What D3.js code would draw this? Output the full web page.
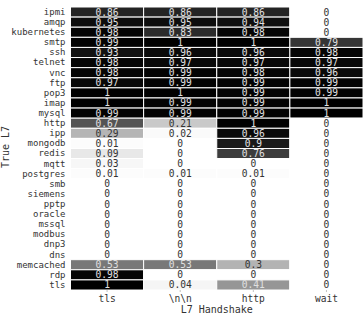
<!DOCTYPE html>
<html><head><meta charset="utf-8">
<script src="https://cdn.jsdelivr.net/npm/d3@7"></script>
<style>
html,body{margin:0;padding:0;background:#fff;}
text{font-family:"DejaVu Sans Mono",monospace;}
</style></head>
<body><svg id="c" width="364" height="315"></svg>
<script>
const rows = ["ipmi","amqp","kubernetes","smtp","ssh","telnet","vnc","ftp","pop3","imap","mysql","http","ipp","mongodb","redis","mqtt","postgres","smb","siemens","pptp","oracle","mssql","modbus","dnp3","dns","memcached","rdp","tls"];
const cols = ["tls","\\n\\n","http","wait"];
const values = [
 [0.86,0.86,0.86,0],
 [0.95,0.95,0.94,0],
 [0.98,0.83,0.98,0],
 [0.99,1,1,0.79],
 [0.93,0.96,0.96,0.98],
 [0.98,0.97,0.97,0.97],
 [0.98,0.99,0.98,0.96],
 [0.97,0.99,0.99,0.99],
 [1,1,0.99,0.99],
 [1,0.99,0.99,1],
 [0.99,0.99,0.99,1],
 [0.67,0.21,1,0],
 [0.29,0.02,0.96,0],
 [0.01,0,0.9,0],
 [0.09,0,0.76,0],
 [0.03,0,0,0],
 [0.01,0.01,0.01,0],
 [0,0,0,0],
 [0,0,0,0],
 [0,0,0,0],
 [0,0,0,0],
 [0,0,0,0],
 [0,0,0,0],
 [0,0,0,0],
 [0,0,0,0],
 [0.53,0.53,0.3,0],
 [0.98,0,0,0],
 [1,0.04,0.41,0]
];
const xLabel = "L7 Handshake", yLabel = "True L7";

const svg = d3.select("#c");
const m = {l:70.5, r:1, t:7, b:25};
const W = 364, H = 315;
const x = d3.scaleBand().domain(cols).range([m.l, W - m.r]).padding(0);
const y = d3.scaleBand().domain(rows).range([m.t, H - m.b]).padding(0);
const color = d3.scaleLinear().domain([0,1]).range(["#ffffff","#000000"]);

const cells = [];
rows.forEach((r,i)=>cols.forEach((c,j)=>cells.push({r,c,v:values[i][j]})));

const g = svg.append("g");
g.selectAll("rect").data(cells).join("rect")
  .attr("x", d=>x(d.c)).attr("y", d=>y(d.r))
  .attr("width", x.bandwidth()).attr("height", y.bandwidth())
  .attr("fill", d=>color(d.v))
  .attr("stroke", "#fff").attr("stroke-width", 1);

const fmt = v => (v===0||v===1) ? String(v) : String(+v.toFixed(2));
g.selectAll("text.v").data(cells).join("text").attr("class","v")
  .attr("x", d=>x(d.c)+x.bandwidth()/2)
  .attr("y", d=>y(d.r)+y.bandwidth()/2)
  .attr("dy","0.36em")
  .attr("text-anchor","middle")
  .attr("font-size", 9.6)
  .attr("fill", d=>d.v>0.35 ? "#e0e0e0" : "#333")
  .text(d=>fmt(d.v));

const xa = svg.append("g").attr("transform",`translate(0,${H-m.b})`)
  .call(d3.axisBottom(x).tickSize(2).tickPadding(3));
xa.select(".domain").remove();
xa.selectAll("line").attr("stroke","#999").attr("stroke-width",0.6);
xa.selectAll("text").attr("font-size",9.6).attr("fill","#333").attr("font-family","DejaVu Sans Mono");

const ya = svg.append("g").attr("transform",`translate(${m.l},0)`)
  .call(d3.axisLeft(y).tickSize(3).tickPadding(2));
ya.select(".domain").remove();
ya.selectAll("line").attr("stroke","none");
ya.selectAll("text").attr("font-size",9).attr("fill","#333").attr("font-family","DejaVu Sans Mono");

svg.append("text").attr("x", (m.l+W-m.r)/2).attr("y", 313)
  .attr("text-anchor","middle").attr("font-size",10).attr("fill","#333").text(xLabel);
svg.append("text").attr("transform",`translate(8.5,147) rotate(-90)`)
  .attr("text-anchor","middle").attr("font-size",10).attr("fill","#333").text(yLabel);
</script></body></html>
